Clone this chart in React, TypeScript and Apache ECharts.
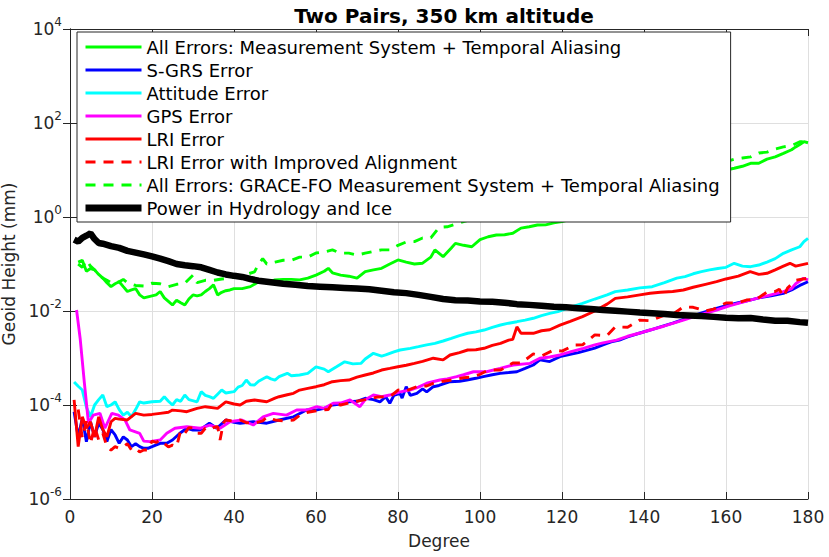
import React, { useEffect, useRef } from "react";
import * as echarts from "echarts";

const FONT = "DejaVu Sans";

const seriesNames = [
  "All Errors: Measurement System + Temporal Aliasing",
  "S-GRS Error",
  "Attitude Error",
  "GPS Error",
  "LRI Error",
  "LRI Error with Improved Alignment",
  "All Errors: GRACE-FO Measurement System + Temporal Aliasing",
  "Power in Hydrology and Ice",
];

const xTicks = [0, 20, 40, 60, 80, 100, 120, 140, 160, 180];

const allErrors: [number, number][] = [
  [2, 0.11], [3, 0.12], [4, 0.07], [5, 0.08], [6, 0.075], [7, 0.06], [8, 0.05], [9, 0.04], [10, 0.033],
  [11, 0.038], [12, 0.042], [13, 0.033], [14, 0.026], [15, 0.028], [16, 0.03], [17, 0.022], [18, 0.019],
  [19, 0.02], [20, 0.021], [21, 0.022], [22, 0.026], [23, 0.019], [24, 0.016], [25, 0.0134], [26, 0.017],
  [27, 0.015], [28, 0.0134], [29, 0.018], [30, 0.022], [31, 0.021], [32, 0.022], [33, 0.026], [34, 0.03],
  [35, 0.036], [36, 0.022], [37, 0.025], [38, 0.027], [39, 0.028], [40, 0.03], [42, 0.03], [44, 0.033],
  [46, 0.042], [48, 0.04], [50, 0.046], [52, 0.047], [54, 0.047], [56, 0.046], [58, 0.05], [60, 0.058],
  [62, 0.07], [63, 0.081], [64, 0.065], [66, 0.058], [68, 0.055], [70, 0.05], [72, 0.069], [74, 0.075],
  [76, 0.081], [78, 0.1], [80, 0.122], [82, 0.11], [84, 0.1], [86, 0.104], [88, 0.14], [89, 0.2],
  [91, 0.143], [93, 0.22], [94, 0.275], [96, 0.25], [98, 0.233], [100, 0.33], [102, 0.38], [104, 0.414],
  [106, 0.42], [108, 0.45], [110, 0.58], [112, 0.62], [114, 0.676], [116, 0.68], [118, 0.75], [120, 0.8],
  [124, 1.0], [128, 1.3], [132, 1.7], [136, 2.2], [140, 3.0], [144, 4], [148, 5.3], [152, 6.8], [156, 8.5],
  [160, 10], [162, 10.9], [164, 12], [166, 13.9], [168, 13.9], [170, 17], [172, 19], [174, 22.6], [176, 27],
  [177, 31], [178, 35], [179, 40], [180, 38],
];

const sgrsError: [number, number][] = [
  [1, 7.2e-5], [2, 2.1e-5], [3, 5.2e-5], [4, 1.66e-5], [5, 4.4e-5], [6, 2.1e-5], [7, 4.1e-5], [8, 3e-5],
  [9, 1.66e-5], [10, 3e-5], [11, 2.3e-5], [12, 1.53e-5], [13, 2.1e-5], [14, 1.8e-5], [15, 1.3e-5], [16, 1.5e-5],
  [17, 1.3e-5], [18, 1.2e-5], [19, 1.2e-5], [20, 1.3e-5], [22, 1.53e-5], [23.6, 1.53e-5], [25, 1.8e-5],
  [26.8, 2.5e-5], [28.5, 3.2e-5], [30, 2.94e-5], [31.7, 2.94e-5], [34, 4.1e-5], [35.8, 3.2e-5], [38, 4.8e-5],
  [40, 4.3e-5], [41.5, 4.1e-5], [44.7, 4.4e-5], [48, 4.1e-5], [51, 4.8e-5], [54.5, 5.6e-5], [57.7, 7.8e-5],
  [60, 7.8e-5], [62, 8.5e-5], [64, 1e-4], [66, 1.05e-4], [68, 1.17e-4], [70, 1.2e-4], [72, 1.39e-4],
  [74, 1.3e-4], [75.6, 1.17e-4], [77, 1.5e-4], [78, 1.09e-4], [79, 1.6e-4], [80.5, 1.77e-4], [81, 1.4e-4],
  [82, 2.45e-4], [83, 1.6e-4], [84.6, 1.77e-4], [86, 2.2e-4], [87, 1.9e-4], [88.6, 2.45e-4], [90, 2.6e-4],
  [92.7, 3.13e-4], [95, 3.2e-4], [96.8, 3.4e-4], [99, 3.7e-4], [100.8, 4.0e-4], [103, 4.4e-4], [104.9, 4.72e-4],
  [107, 4.9e-4], [109, 5.1e-4], [111, 6.0e-4], [113, 7.1e-4], [114.6, 9.1e-4], [117, 8.4e-4], [119.5, 1.07e-3],
  [122, 1.2e-3], [124, 1.3e-3], [126, 1.45e-3], [128, 1.63e-3], [130, 1.9e-3], [132, 2.2e-3], [134, 2.4e-3],
  [136, 2.8e-3], [138, 3.2e-3], [141.5, 3.94e-3], [144, 4.6e-3], [147, 5.5e-3], [150, 6.8e-3], [153.7, 8.9e-3],
  [157, 0.011], [160, 0.013], [163, 0.015], [165.9, 0.0171], [168, 0.019], [171, 0.021], [174, 0.0238],
  [176, 0.028], [178, 0.035], [180, 0.042],
];

const attitudeError: [number, number][] = [
  [1, 3.1e-4], [2, 2.5e-4], [3, 2.08e-4], [4, 9e-5], [5, 5.6e-5], [6, 1e-4], [7, 1.3e-4], [8, 1.63e-4],
  [9, 9.2e-5], [10, 1.0e-4], [11, 1.17e-4], [12, 8e-5], [13, 6.1e-5], [14, 7e-5], [15, 5.6e-5], [16, 8e-5],
  [17, 1.17e-4], [18, 1.1e-4], [20, 1.17e-4], [22, 1.2e-4], [23, 1.5e-4], [24, 1.2e-4], [25, 1.0e-4],
  [26, 1.3e-4], [27, 1.2e-4], [28, 1.63e-4], [29, 1.3e-4], [31, 1.17e-4], [32, 1.92e-4], [33, 1.6e-4],
  [34, 1.5e-4], [35, 1.39e-4], [36, 1.7e-4], [37, 2.08e-4], [38, 1.8e-4], [40, 1.92e-4], [41, 2.4e-4],
  [42, 2.6e-4], [43, 3.4e-4], [44, 2.7e-4], [45, 2.67e-4], [46, 3.2e-4], [48, 4.0e-4], [49, 3.6e-4],
  [50, 3.4e-4], [51, 4.0e-4], [53, 4.72e-4], [54, 4.2e-4], [56, 4.35e-4], [58, 4.72e-4], [60, 6.5e-4],
  [62, 5.8e-4], [63, 5.1e-4], [65, 6.5e-4], [67, 8.3e-4], [69, 7.5e-4], [71, 7.7e-4], [72, 9.5e-4],
  [74, 1.26e-3], [76, 1.1e-3], [77, 1.16e-3], [79, 1.35e-3], [80.5, 1.48e-3], [83, 1.6e-3], [85, 1.74e-3],
  [87, 1.9e-3], [89, 2.05e-3], [91, 2.3e-3], [93, 2.62e-3], [95, 3.0e-3], [97, 3.36e-3], [99, 3.6e-3],
  [101, 3.94e-3], [103, 4.5e-3], [105, 5.04e-3], [107, 5.5e-3], [109, 5.92e-3], [111, 6.4e-3], [113, 7.0e-3],
  [115, 8.0e-3], [117, 8.9e-3], [119, 9.7e-3], [122, 0.012], [125, 0.0146], [128, 0.018], [131, 0.022],
  [133, 0.0258], [136, 0.028], [139, 0.031], [142, 0.0329], [145, 0.04], [148, 0.05], [150, 0.054],
  [152, 0.062], [154, 0.0686], [156, 0.075], [158, 0.08], [160, 0.085], [162, 0.1035], [164, 0.09],
  [166, 0.0877], [168, 0.095], [170, 0.11], [172, 0.13], [174, 0.169], [176, 0.2], [178, 0.233],
  [179, 0.3], [180, 0.352],
];

const gpsError: [number, number][] = [
  [1.6, 0.0105], [2.5, 2.5e-3], [3.5, 3e-4], [4.5, 4.1e-5], [5.7, 6.1e-5], [7.3, 6.65e-5], [8.5, 3.2e-5],
  [10.2, 6.65e-5], [11.8, 6.1e-5], [13.4, 4.8e-5], [14.6, 2.94e-5], [17, 2.5e-5], [18, 1.7e-5], [19.5, 1.66e-5],
  [22, 1.8e-5], [23.6, 2.5e-5], [25.6, 3.2e-5], [28.5, 3.45e-5], [31.7, 3.2e-5], [34.1, 3.75e-5],
  [36.6, 3.2e-5], [39, 4.4e-5], [41.9, 4.8e-5], [44.7, 3.75e-5], [47.1, 5.6e-5], [49.6, 6.65e-5],
  [52.8, 6.1e-5], [55.3, 7.8e-5], [57.7, 7.8e-5], [60.2, 9.2e-5], [62, 8.5e-5], [64.2, 1.09e-4], [66, 1.1e-4],
  [68.3, 1.28e-4], [70.7, 9.2e-5], [72, 1.3e-4], [74, 1.63e-4], [76, 1.5e-4], [78, 1.63e-4], [80.5, 1.9e-4],
  [82.9, 2.08e-4], [85, 2.4e-4], [87, 2.9e-4], [90.2, 3.4e-4], [92, 3.6e-4], [94.3, 4.0e-4], [96, 4.4e-4],
  [98.4, 5.1e-4], [101.6, 5.1e-4], [104.9, 6.0e-4], [108.1, 7.1e-4], [112.2, 7.7e-4], [114.6, 9.9e-4],
  [117, 1.05e-3], [119.5, 1.16e-3], [122, 1.35e-3], [125.2, 1.61e-3], [128, 1.9e-3], [130, 2.1e-3],
  [133.3, 2.4e-3], [136, 2.9e-3], [139, 3.4e-3], [141.5, 3.94e-3], [145, 4.8e-3], [149.6, 6.4e-3],
  [153, 8e-3], [157.7, 0.0105], [161, 0.013], [165.9, 0.0171], [170, 0.021], [174, 0.0258], [176, 0.03],
  [177, 0.038], [178.9, 0.0496], [180, 0.0457],
];

const lriError: [number, number][] = [
  [1, 1.28e-4], [2, 1.3e-5], [3, 5.6e-5], [4, 3.2e-5], [5, 4.4e-5], [6, 2.1e-5], [7, 5.6e-5], [8, 3e-5],
  [9, 2.1e-5], [10, 4.4e-5], [11, 5.2e-5], [12, 5.0e-5], [14, 4.8e-5], [16, 6.65e-5], [18, 6.1e-5],
  [20, 6.3e-5], [22, 6.65e-5], [24, 7.0e-5], [25, 7.8e-5], [27, 7.5e-5], [28.5, 7.2e-5], [31, 8.5e-5],
  [33, 9.2e-5], [36, 8.5e-5], [38, 1.17e-4], [40, 1.05e-4], [41.5, 1.0e-4], [43, 1.2e-4], [45, 1.28e-4],
  [48, 1.17e-4], [50, 1.4e-4], [51, 1.5e-4], [53, 1.65e-4], [54.5, 1.77e-4], [56, 2.08e-4], [58, 2.26e-4],
  [60, 2.45e-4], [62, 2.7e-4], [64, 3.13e-4], [66, 3.3e-4], [68, 3.4e-4], [70, 3.9e-4], [72, 4.35e-4],
  [74, 4.8e-4], [76, 5.55e-4], [78, 6.0e-4], [80, 6.5e-4], [82, 7.0e-4], [84, 7.7e-4], [86, 8.5e-4],
  [88.6, 9.9e-4], [91, 9.1e-4], [92.7, 1.16e-3], [95, 1.3e-3], [97, 1.48e-3], [99, 1.5e-3], [101, 1.61e-3],
  [103, 1.85e-3], [105, 2.05e-3], [107, 2.4e-3], [108, 2.5e-3], [109, 4.6e-3], [110, 3.36e-3],
  [113, 3.36e-3], [115, 3.8e-3], [117, 4.0e-3], [119.5, 5.0e-3], [122, 6.0e-3], [125, 7.6e-3], [128, 0.01],
  [131, 0.014], [133, 0.0186], [136, 0.02], [139, 0.022], [141.5, 0.0238], [144, 0.025], [147, 0.026],
  [149.6, 0.028], [152, 0.032], [155, 0.037], [157.7, 0.042], [160, 0.048], [163, 0.055], [165.9, 0.0686],
  [168, 0.06], [170, 0.0634], [172, 0.075], [174, 0.09], [175.6, 0.1035], [177, 0.09], [180, 0.1035],
];

const lriImproved: [number, number][] = [
  [2, 8e-5], [3, 2e-5], [4, 4.5e-5], [5, 1.5e-5], [6, 3.5e-5], [7, 1.8e-5], [8, 2.5e-5], [9, 1.3e-5],
  [10, 1.1e-5], [11, 1.3e-5], [12, 1.2e-5], [13, 1.28e-5], [14, 1.5e-5], [15, 1.1e-5], [16, 1.2e-5],
  [17, 1.0e-5], [18, 1.1e-5], [19, 1.1e-5], [20, 1.71e-5], [21, 1.6e-5], [22, 1.8e-5], [24, 1.28e-5],
  [25, 1.4e-5], [26, 1.3e-5], [27, 2.9e-5], [28, 2.5e-5], [29, 3.3e-5], [30, 3.24e-5], [31, 2.5e-5],
  [32, 2.5e-5], [33, 3.2e-5], [34, 3.0e-5], [35, 3.3e-5], [36, 3.5e-5], [36.6, 1.8e-5], [37.4, 4.1e-5],
  [38, 4.8e-5], [40, 4.5e-5], [41.5, 4.8e-5], [43, 4.2e-5], [45, 4.1e-5], [47, 4.6e-5], [48, 5.5e-5],
  [50, 4.8e-5], [52, 4.6e-5], [54.5, 4.8e-5], [56, 6e-5], [58, 7e-5], [61, 7.8e-5], [63, 8e-5], [64, 1.1e-4],
  [66, 1.0e-4], [68, 1.1e-4], [70, 1.2e-4], [72, 1.3e-4], [75, 1.48e-4], [78, 1.5e-4], [80, 2.08e-4],
  [82, 2.0e-4], [85, 2.54e-4], [87, 2.54e-4], [89, 3.0e-4], [91, 3.2e-4], [94, 3.5e-4], [96, 3.8e-4],
  [98, 3.94e-4], [100, 4.5e-4], [102, 5.55e-4], [105, 5.55e-4], [108, 7.8e-4], [110, 7.8e-4], [113, 1.22e-3],
  [115, 1.1e-3], [118, 1.48e-3], [120, 1.4e-3], [123, 1.89e-3], [125, 1.9e-3], [128, 3.1e-3], [131, 3.0e-3],
  [133, 4.57e-3], [136, 4.5e-3], [139, 6.4e-3], [141.5, 6.2e-3], [145, 8.2e-3], [147, 8.5e-3],
  [149.6, 0.0122], [152, 0.012], [155, 0.01], [157, 0.011], [160, 0.0148], [163, 0.015], [165, 0.0171],
  [167.5, 0.018], [170, 0.0254], [172, 0.026], [173, 0.029], [174, 0.02], [175, 0.0308], [177, 0.045],
  [180, 0.05],
];

const graceFoAll: [number, number][] = [
  [2, 0.1], [3, 0.085], [4, 0.12], [5, 0.09], [6, 0.075], [7, 0.06], [8, 0.05], [9, 0.045], [10, 0.04],
  [12, 0.042], [13, 0.047], [14, 0.04], [16, 0.035], [18, 0.034], [20, 0.039], [22, 0.038], [24, 0.033],
  [26, 0.037], [28, 0.039], [30, 0.058], [31, 0.04], [33, 0.045], [35, 0.045], [37, 0.048], [39, 0.05],
  [41, 0.055], [43, 0.06], [45, 0.068], [46, 0.1], [47, 0.13], [48, 0.1], [50, 0.11], [52, 0.12], [54, 0.12],
  [56, 0.14], [58, 0.14], [60, 0.171], [62, 0.18], [64, 0.199], [66, 0.17], [68, 0.17], [70, 0.155],
  [72, 0.17], [74, 0.185], [76, 0.2], [78, 0.2], [80, 0.25], [82, 0.294], [84, 0.3], [86, 0.357], [88, 0.36],
  [90, 0.6], [92, 0.62], [96, 0.8], [100, 1.0], [105, 1.3], [110, 1.6], [115, 2.0], [120, 2.5], [125, 3.1],
  [130, 4], [135, 5], [140, 6.3], [145, 8], [150, 10], [155, 12], [160, 15], [162, 17], [164, 18], [166, 19],
  [168, 23], [170, 24], [172, 28], [174, 31], [176, 33], [178, 40], [180, 40],
];

const hydroPower: [number, number][] = [
  [1, 0.33], [2, 0.3], [3, 0.36], [4, 0.4], [5, 0.45], [6, 0.34], [7, 0.28], [8, 0.27], [10, 0.24],
  [12, 0.22], [14, 0.19], [16, 0.175], [18, 0.16], [20, 0.145], [22, 0.13], [24, 0.115], [26, 0.1],
  [28, 0.094], [30, 0.09], [32, 0.085], [34, 0.075], [36, 0.066], [38, 0.06], [40, 0.056], [42, 0.053],
  [44, 0.048], [46, 0.044], [48, 0.042], [50, 0.04], [52, 0.038], [55, 0.036], [58, 0.034], [61, 0.033],
  [64, 0.032], [67, 0.031], [70, 0.03], [73, 0.029], [76, 0.027], [79, 0.025], [82, 0.024], [85, 0.022],
  [88, 0.02], [91, 0.018], [94, 0.017], [97, 0.0168], [100, 0.016], [103, 0.0158], [106, 0.015],
  [109, 0.014], [112, 0.0135], [115, 0.013], [118, 0.0123], [121, 0.012], [124, 0.0115], [127, 0.011],
  [130, 0.0105], [133, 0.0101], [136, 0.0097], [139, 0.0093], [142, 0.009], [145, 0.0086], [148, 0.0082],
  [151, 0.008], [154, 0.0078], [157, 0.0075], [160, 0.0072], [163, 0.007], [166, 0.0071], [169, 0.0066],
  [172, 0.0062], [175, 0.0062], [178, 0.0058], [180, 0.0056],
];

const seriesData = [allErrors, sgrsError, attitudeError, gpsError, lriError, lriImproved, graceFoAll, hydroPower];
const seriesColors = ["#00ff00", "#0000ff", "#00ffff", "#ff00ff", "#ff0000", "#ff0000", "#00ff00", "#000000"];
const seriesDashed = [false, false, false, false, false, true, true, false];
const seriesWidths = [2.9, 2.9, 2.9, 2.9, 2.9, 2.9, 2.9, 6.5];

export default function App() {
  const ref = useRef<HTMLDivElement>(null);
  useEffect(() => {
    if (!ref.current) return;
    const chart = echarts.init(ref.current, undefined, { renderer: "svg" });
    const axisColor = "#262626";
    const expLabel = (v: number) => {
      const e = Math.round(Math.log10(v));
      return "{b|10}{e|" + e + "}";
    };
    const series = seriesNames.map((name, i) => ({
      name,
      type: "line",
      data: seriesData[i],
      showSymbol: false,
      symbol: "none",
      silent: true,
      lineStyle: {
        color: seriesColors[i],
        width: seriesWidths[i],
        type: seriesDashed[i] ? [10, 8] : "solid",
      },
      itemStyle: { color: seriesColors[i] },
      z: 2 + i * 0.01,
    }));
    chart.setOption({
      animation: false,
      title: {
        text: "Two Pairs, 350 km altitude",
        left: 439,
        top: 1,
        textAlign: "center",
        textStyle: { fontFamily: FONT, fontSize: 20, fontWeight: "bold", color: "#000" },
      },
      grid: { left: 70, right: 21, top: 29, bottom: 58, containLabel: false, outerBoundsMode: "none" },
      legend: {
        orient: "vertical",
        left: 77,
        top: 32,
        itemWidth: 56,
        itemHeight: 16,
        itemGap: 5,
        padding: [6, 11, 5, 5],
        backgroundColor: "#ffffff",
        borderColor: axisColor,
        borderWidth: 1,
        borderRadius: 0,
        selectedMode: false,
        itemStyle: { opacity: 0, borderWidth: 0 },
        textStyle: { fontFamily: FONT, fontSize: 18, color: "#000" },
        data: seriesNames.map((name, i) => ({
          name,
          itemStyle: { opacity: 0, borderWidth: 0 },
          lineStyle: { width: i === 7 ? 7 : 3 },
        })),
      },
      xAxis: [
        {
          type: "value",
          min: xTicks[0],
          max: xTicks[xTicks.length - 1],
          interval: 20,
          name: "Degree",
          nameLocation: "middle",
          nameGap: 33,
          nameTextStyle: { fontFamily: FONT, fontSize: 17, color: axisColor },
          axisLine: { show: true, lineStyle: { color: axisColor, width: 1 } },
          axisTick: { show: true, inside: true, length: 7, lineStyle: { color: axisColor } },
          axisLabel: { fontFamily: FONT, fontSize: 17, color: axisColor, margin: 9 },
          splitLine: { show: true, lineStyle: { color: "#dfdfdf", width: 1 } },
        },
        {
          type: "value",
          position: "top",
          min: xTicks[0],
          max: xTicks[xTicks.length - 1],
          interval: 20,
          axisLine: { show: true, lineStyle: { color: axisColor, width: 1 } },
          axisTick: { show: true, inside: true, length: 7, lineStyle: { color: axisColor } },
          axisLabel: { show: false },
          splitLine: { show: false },
        },
      ],
      yAxis: [
        {
          type: "log",
          logBase: 10,
          min: 1e-6,
          max: 1e4,
          interval: 2,
          name: "Geoid Height (mm)",
          nameLocation: "middle",
          nameGap: 52,
          nameTextStyle: { fontFamily: FONT, fontSize: 17, color: axisColor },
          axisLine: { show: true, lineStyle: { color: axisColor, width: 1 } },
          axisTick: { show: true, inside: true, length: 7, lineStyle: { color: axisColor } },
          axisLabel: {
            margin: 8,
            formatter: expLabel,
            rich: {
              b: { fontFamily: FONT, fontSize: 17, color: axisColor, padding: [5, 0, 5, 0] },
              e: { fontFamily: FONT, fontSize: 12, color: axisColor, padding: [0, 0, 15, 0] },
            },
          },
          splitLine: { show: true, lineStyle: { color: "#dfdfdf", width: 1 } },
          minorTick: { show: false },
        },
        {
          type: "log",
          logBase: 10,
          min: 1e-6,
          max: 1e4,
          interval: 2,
          position: "right",
          axisLine: { show: true, lineStyle: { color: axisColor, width: 1 } },
          axisTick: { show: true, inside: true, length: 7, lineStyle: { color: axisColor } },
          axisLabel: { show: false },
          splitLine: { show: false },
        },
      ],
      series,
    });
    return () => chart.dispose();
  }, []);
  return (
    <div
      ref={ref}
      style={{ position: "fixed", left: 0, top: 0, width: 829, height: 557, background: "#fff" }}
    />
  );
}
